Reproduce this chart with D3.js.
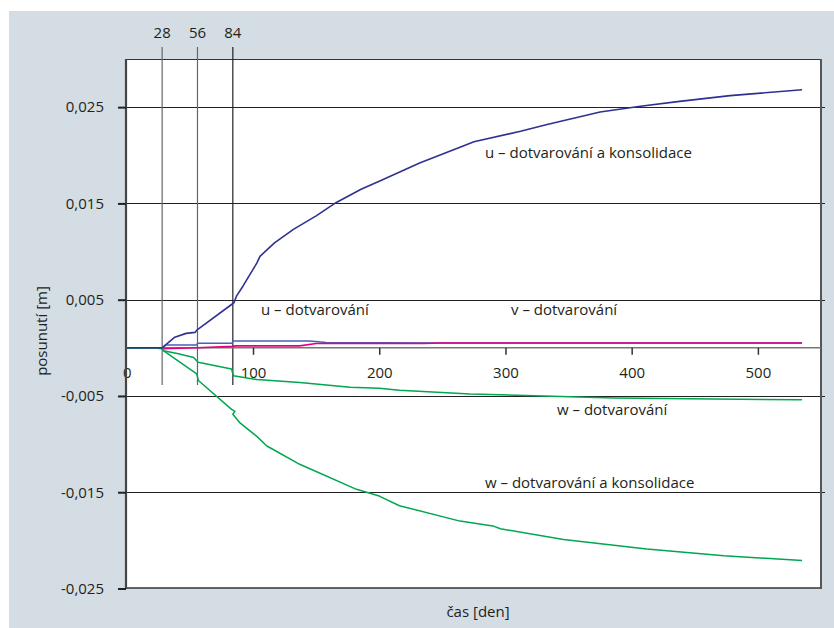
<!DOCTYPE html>
<html>
<head>
<meta charset="utf-8">
<script src="https://cdn.jsdelivr.net/npm/d3@7"></script>
<style>
  body { margin: 0; background: #fff; }
  svg text { font-family: "Open Sans", "Noto Sans", sans-serif; fill: #231f20; }
</style>
</head>
<body>
<div id="chart"></div>
<script>
// time in days and displacement in metres
const uCons_t = [0, 28, 38, 47, 54, 56, 83, 85, 87, 92, 103, 105.5, 117, 132, 150, 166, 186, 200, 232, 267, 275, 312, 333, 375, 407, 438, 478, 535];
const uCons_v = [0, 0, 0.0011, 0.0015, 0.0016, 0.0019, 0.0045, 0.0047, 0.0054, 0.0064, 0.0088, 0.0095, 0.0109, 0.0123, 0.0137, 0.0151, 0.0165, 0.0173, 0.0192, 0.0210, 0.0214, 0.0225, 0.0232, 0.0245, 0.0251, 0.0256, 0.0262, 0.0268];

const uCreep_t = [0, 28, 31, 55.5, 56, 83.5, 84, 145, 158, 247, 535];
const uCreep_v = [0, 0, 0.0003, 0.0003, 0.00047, 0.00047, 0.0007, 0.0007, 0.00054, 0.0005, 0.0005];

const vCreep_t = [0, 20, 28, 56, 84, 86, 137, 150, 235, 248, 535];
const vCreep_v = [0, 0, -0.0001, 0, 0.00015, 0.0002, 0.0002, 0.00045, 0.00045, 0.0005, 0.0005];

const wCreep_t = [0, 28, 29, 40, 53, 56.5, 83, 84.5, 103, 137, 177, 200, 216, 272, 330, 386, 535];
const wCreep_v = [0, 0, -0.0003, -0.0006, -0.0010, -0.0015, -0.0022, -0.0029, -0.0033, -0.0036, -0.0041, -0.0042, -0.0044, -0.0048, -0.0050, -0.0052, -0.0054];

const wCons_t = [0, 28, 29, 55.4, 56.7, 83, 85.7, 84, 89.7, 103, 111, 137, 182, 200, 216, 264, 290, 296, 346, 412, 473, 535];
const wCons_v = [0, 0, -0.0003, -0.0027, -0.0034, -0.0064, -0.0066, -0.0069, -0.0078, -0.0092, -0.0102, -0.0121, -0.0147, -0.0154, -0.0164, -0.0180, -0.0185, -0.0188, -0.0199, -0.0209, -0.0216, -0.0221];

const xTicks = [0, 100, 200, 300, 400, 500];
const yTicks = [0.025, 0.015, 0.005, -0.005, -0.015, -0.025];
const yTickLabels = ["0,025", "0,015", "0,005", "-0,005", "-0,015", "-0,025"];
const stages = [28, 56, 84];

const W = 834, H = 628;
const FS = 15;
const svg = d3.select("#chart").append("svg")
  .attr("width", W).attr("height", H);

// grey panel
svg.append("rect").attr("x", 9).attr("y", 11).attr("width", W - 9).attr("height", H - 11)
  .attr("fill", "#d5dde4");

const pLeft = 126, pRight = 821, pTop = 59, pBottom = 588;
const x = d3.scaleLinear().domain([0, 550]).range([pLeft + 0.8, pRight]);
const y = d3.scaleLinear().domain([-0.025, 0.030]).range([pBottom + 0.5, pTop]);

svg.append("rect").attr("x", pLeft).attr("y", pTop).attr("width", pRight - pLeft).attr("height", pBottom - pTop)
  .attr("fill", "#fff");

// horizontal gridlines
svg.append("g").selectAll("line").data(yTicks.slice(0, 5)).join("line")
  .attr("x1", pLeft).attr("x2", pRight + 4)
  .attr("y1", d => Math.round(y(d)) + 0.5).attr("y2", d => Math.round(y(d)) + 0.5)
  .attr("stroke", "#222").attr("stroke-width", 1.1);

// frame
svg.append("line").attr("x1", pLeft).attr("x2", pRight).attr("y1", pTop + 0.5).attr("y2", pTop + 0.5)
  .attr("stroke", "#333").attr("stroke-width", 1.2);
svg.append("line").attr("x1", pLeft).attr("x2", pRight).attr("y1", pBottom).attr("y2", pBottom)
  .attr("stroke", "#333").attr("stroke-width", 1.5);
svg.append("line").attr("x1", pRight).attr("x2", pRight).attr("y1", pTop).attr("y2", pBottom + 1)
  .attr("stroke", "#555").attr("stroke-width", 2);

// stage lines 28 / 56 / 84
svg.append("g").selectAll("line").data(stages).join("line")
  .attr("x1", d => x(d)).attr("x2", d => x(d))
  .attr("y1", 47).attr("y2", 385)
  .attr("stroke", (d, i) => i < 2 ? "#666" : "#222").attr("stroke-width", 1.2);
svg.append("g").selectAll("text").data(stages).join("text")
  .attr("x", d => x(d)).attr("y", 38)
  .attr("text-anchor", "middle").attr("font-size", FS)
  .text(d => d);

// x axis on zero line
const xAxis = svg.append("g")
  .attr("transform", `translate(0,${y(0)})`)
  .call(d3.axisBottom(x).tickValues(xTicks).tickSize(7).tickPadding(13).tickFormat(d3.format("d")));
xAxis.select(".domain").attr("stroke", "#777").attr("stroke-width", 1.6)
  .attr("d", `M${pLeft},0H${pRight}`);
xAxis.selectAll(".tick line").attr("stroke", "#333").attr("stroke-width", 1.5);
xAxis.selectAll(".tick line").filter(d => d === 0).remove();
xAxis.selectAll(".tick text").attr("font-size", FS).attr("font-family", null).attr("fill", "#231f20");

// y axis
const yAxis = svg.append("g")
  .attr("transform", `translate(${pLeft},0)`)
  .call(d3.axisLeft(y).tickValues(yTicks).tickSize(8).tickPadding(14)
    .tickFormat((d, i) => yTickLabels[i]));
yAxis.select(".domain").attr("stroke", "#444").attr("stroke-width", 2.2)
  .attr("d", `M0,${pTop}V${pBottom + 1}`);
yAxis.selectAll(".tick line").attr("stroke", "#222").attr("stroke-width", 2);
yAxis.selectAll(".tick text").attr("font-size", FS).attr("font-family", null).attr("fill", "#231f20");

// series
const line = d3.line().x(d => x(d[0])).y(d => y(d[1]));
const series = [
  { t: uCreep_t, v: uCreep_v, color: "#4a5fb6", w: 1.5 },
  { t: vCreep_t, v: vCreep_v, color: "#e6007e", w: 1.6 },
  { t: wCreep_t, v: wCreep_v, color: "#00a650", w: 1.5 },
  { t: wCons_t, v: wCons_v, color: "#00a650", w: 1.5 },
  { t: uCons_t, v: uCons_v, color: "#2e3192", w: 1.6 }
];
svg.append("g").selectAll("path").data(series).join("path")
  .attr("d", s => line(s.t.map((t, i) => [t, s.v[i]])))
  .attr("fill", "none")
  .attr("stroke", s => s.color)
  .attr("stroke-width", s => s.w)
  .attr("stroke-linejoin", "round");

// series labels
const labels = [
  { text: "u – dotvarování a konsolidace", x: 485, y: 158 },
  { text: "u – dotvarování", x: 261, y: 315 },
  { text: "v – dotvarování", x: 511, y: 315 },
  { text: "w – dotvarování", x: 557, y: 415 },
  { text: "w – dotvarování a konsolidace", x: 485, y: 488 }
];
svg.append("g").selectAll("text").data(labels).join("text")
  .attr("x", d => d.x).attr("y", d => d.y)
  .attr("font-size", FS)
  .text(d => d.text);

// axis titles
svg.append("text")
  .attr("transform", "translate(47,331) rotate(-90)")
  .attr("text-anchor", "middle").attr("font-size", FS)
  .text("posunutí [m]");
svg.append("text")
  .attr("x", 478).attr("y", 617)
  .attr("text-anchor", "middle").attr("font-size", FS)
  .text("čas [den]");
</script>
</body>
</html>
